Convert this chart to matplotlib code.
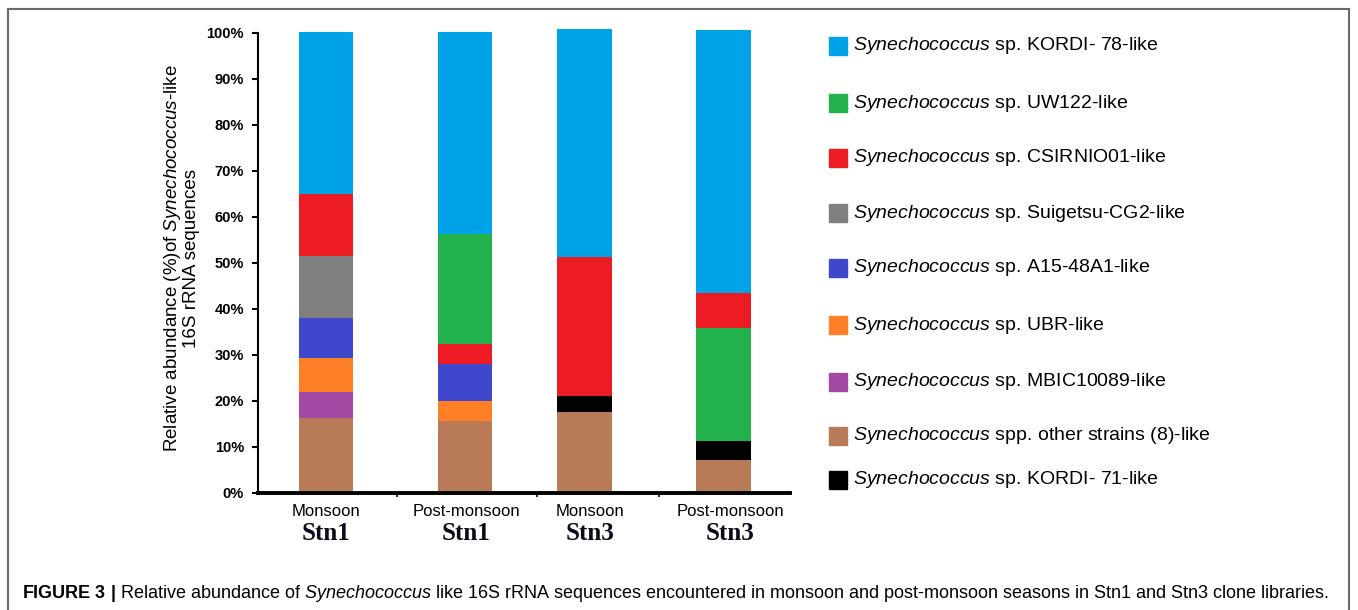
import matplotlib
matplotlib.use('Agg')
import matplotlib.pyplot as plt
from matplotlib.patches import Rectangle
from matplotlib.lines import Line2D

plt.rcParams['font.family'] = ['Liberation Sans', 'DejaVu Sans']
plt.rcParams['mathtext.fontset'] = 'custom'
plt.rcParams['mathtext.rm'] = 'Liberation Sans'
plt.rcParams['mathtext.it'] = 'Liberation Sans:italic'
plt.rcParams['mathtext.bf'] = 'Liberation Sans:bold'

seasons = ['Monsoon', 'Post-monsoon', 'Monsoon', 'Post-monsoon']
stations = ['Stn1', 'Stn1', 'Stn3', 'Stn3']

# relative abundance (%) per clone library, 0 = strain not found
kordi78 = [35.3, 44.0, 49.5, 57.1]
uw122 = [0.0, 23.8, 0.0, 24.6]
csirnio01 = [13.4, 4.4, 30.3, 7.6]
suigetsu = [13.4, 0.0, 0.0, 0.0]
a15 = [8.7, 7.9, 0.0, 0.0]
ubr = [7.5, 4.4, 0.0, 0.0]
mbic = [5.5, 0.0, 0.0, 0.0]
others = [16.4, 15.7, 17.5, 7.1]
kordi71 = [0.0, 0.0, 3.5, 4.2]

series = [kordi78, uw122, csirnio01, suigetsu, a15, ubr, mbic, others, kordi71]
legend_labels = ['sp. KORDI- 78-like', 'sp. UW122-like', 'sp. CSIRNIO01-like',
                 'sp. Suigetsu-CG2-like', 'sp. A15-48A1-like', 'sp. UBR-like',
                 'sp. MBIC10089-like', 'spp. other strains (8)-like',
                 'sp. KORDI- 71-like']
colors = ['#00A2E8', '#22B14C', '#ED1C24', '#7F7F7F', '#3F48CC', '#FF7F27',
          '#A349A4', '#B97A57', '#000000']

# bottom -> top, index into series (green/red swap in the last bar)
stack_order = [[7, 8, 6, 5, 4, 3, 2, 1, 0],
               [7, 8, 6, 5, 4, 3, 2, 1, 0],
               [7, 8, 6, 5, 4, 3, 2, 1, 0],
               [7, 8, 6, 5, 4, 3, 1, 2, 0]]

bar_x = [0, 1, 1.86, 2.86]
label_x = [0, 1.01, 1.9, 2.91]
sep_ticks = [0.51, 1.52, 2.40]

W, H = 1358, 610
fig = plt.figure(figsize=(W / 100, H / 100), dpi=100)
ax = fig.add_axes([258 / W, 117 / H, 532 / W, 467 / H])

for i, x in enumerate(bar_x):
    bottom = 0
    for k in stack_order[i]:
        v = series[k][i]
        if v > 0:
            ax.bar(x, v, bottom=bottom, width=0.395, color=colors[k], linewidth=0)
            bottom += v

ax.set_xlim(-0.49, 3.34)
ax.set_ylim(0, 101.5)
ax.spines['top'].set_visible(False)
ax.spines['right'].set_visible(False)
ax.spines['left'].set_bounds(0, 100)
ax.spines['left'].set_linewidth(1.5)
ax.spines['bottom'].set_linewidth(2.8)

ax.set_yticks(range(0, 101, 10))
ax.set_yticklabels([str(v) + '%' for v in range(0, 101, 10)],
                   fontsize=10.5, fontweight='bold')
ax.tick_params(axis='y', length=4, width=1.5, pad=6)
ax.set_xticks(sep_ticks)
ax.set_xticklabels([])
ax.tick_params(axis='x', length=3, width=1.2)

for i, lx in enumerate(label_x):
    ax.text(lx, -0.039, seasons[i], transform=ax.get_xaxis_transform(),
            ha='center', va='center', fontsize=12)
    ax.text(lx, -0.086, stations[i], transform=ax.get_xaxis_transform(),
            ha='center', va='center', fontsize=18, fontweight='bold',
            family=['Liberation Serif', 'DejaVu Serif'], color='#0a0a1a')

fig.text(181 / W, 1 - 258 / H,
         'Relative abundance (%)of $\\it{Synechococcus}$-like\n16S rRNA sequences',
         rotation=90, ha='center', va='center', fontsize=13.5,
         linespacing=1.05, multialignment='center')

# legend drawn by hand to keep the uneven row spacing
legend_y = [46, 103, 158, 213, 268, 325, 382, 436, 480]
for i, lab in enumerate(legend_labels):
    y = legend_y[i]
    fig.patches.append(Rectangle((829 / W, 1 - (y + 9) / H), 18 / W, 18 / H,
                                 transform=fig.transFigure, color=colors[i]))
    fig.text(853 / W, 1 - y / H, '$\\it{Synechococcus}$ ' + lab,
             ha='left', va='center', fontsize=14)

caption = ('$\\bf{FIGURE\\ 3\\ |}$ Relative abundance of $\\it{Synechococcus}$ like '
           '16S rRNA sequences encountered in monsoon and post-monsoon seasons '
           'in Stn1 and Stn3 clone libraries.')
fig.text(22 / W, 1 - 593 / H, caption, ha='left', va='center', fontsize=13)

# outer frame, open at the bottom
fc = '#6a6a6a'
for xs, ys in [([8, 8], [9, 610]), ([8, 1349], [9, 9]), ([1349, 1349], [9, 610])]:
    fig.lines.append(Line2D([x / W for x in xs], [1 - y / H for y in ys],
                            transform=fig.transFigure, color=fc, linewidth=1.5))

fig.savefig('out.png', dpi=100)
